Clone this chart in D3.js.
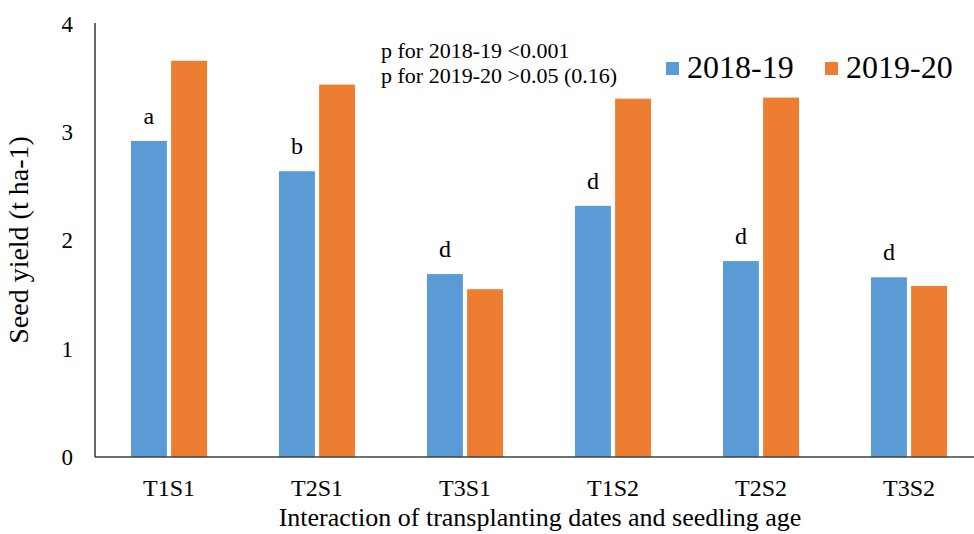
<!DOCTYPE html>
<html>
<head>
<meta charset="utf-8">
<script src="https://cdn.jsdelivr.net/npm/d3@7"></script>
<style>
  html, body { margin: 0; padding: 0; background: #fff; }
  svg { display: block; }
</style>
</head>
<body>
<svg id="chart" width="974" height="534"></svg>
<script>
// Seed yield by transplanting date x seedling age, two seasons
const categories = ["T1S1", "T2S1", "T3S1", "T1S2", "T2S2", "T3S2"];
const seriesNames = ["2018-19", "2019-20"];
const yield2018 = [2.92, 2.64, 1.69, 2.32, 1.81, 1.66];
const yield2019 = [3.66, 3.44, 1.55, 3.31, 3.32, 1.58];
const letters2018 = ["a", "b", "d", "d", "d", "d"];
const yTicks = [0, 1, 2, 3, 4];
const pNotes = ["p for 2018-19 <0.001", "p for 2019-20 >0.05 (0.16)"];

const colors = ["#5B9BD5", "#ED7D31"];
const FONT = "'Liberation Serif', 'Times New Roman', serif";
const svg = d3.select("#chart");

const plotLeft = 95, plotBottom = 457, plotTop = 24;
const band = 148;

const x = d3.scaleBand()
  .domain(categories)
  .range([plotLeft, plotLeft + band * categories.length])
  .paddingInner(0.486)
  .paddingOuter(0.243);

const xSub = d3.scaleBand()
  .domain(seriesNames)
  .range([0, x.bandwidth()])
  .paddingInner(0.105);

const y = d3.scaleLinear().domain([0, 4]).range([plotBottom, plotTop]);

const rows = categories.map((c, i) => ({
  cat: c, letter: letters2018[i],
  vals: [
    { key: seriesNames[0], v: yield2018[i], color: colors[0] },
    { key: seriesNames[1], v: yield2019[i], color: colors[1] }
  ]
}));

// bars
const g = svg.append("g");
const grp = g.selectAll("g.grp").data(rows).join("g")
  .attr("class", "grp")
  .attr("transform", d => `translate(${x(d.cat)},0)`);

grp.selectAll("rect").data(d => d.vals).join("rect")
  .attr("x", d => xSub(d.key))
  .attr("width", xSub.bandwidth())
  .attr("y", d => y(d.v))
  .attr("height", d => y(0) - y(d.v))
  .attr("fill", d => d.color);

// significance letters above the 2018-19 bars
grp.append("text")
  .attr("x", xSub(seriesNames[0]) + xSub.bandwidth() / 2)
  .attr("y", d => y(d.vals[0].v) - 17)
  .attr("text-anchor", "middle")
  .attr("font-family", FONT)
  .attr("font-size", 24)
  .attr("fill", "#000")
  .text(d => d.letter);

// y axis
const yAxis = d3.axisLeft(y).tickValues(yTicks).tickSize(0).tickPadding(22).tickFormat(d3.format("d"));
const ya = svg.append("g").attr("transform", `translate(${plotLeft},0)`).call(yAxis);
ya.select(".domain").attr("stroke", "#404040").attr("stroke-width", 1.6).attr("d", `M0,${plotTop - 1}V${plotBottom}`);
ya.selectAll("text").attr("font-size", 23).attr("fill", "#000").attr("font-family", FONT);

// x axis
const xAxis = d3.axisBottom(x).tickSize(0).tickPadding(22);
const xa = svg.append("g").attr("transform", `translate(0,${plotBottom})`).call(xAxis);
xa.select(".domain").attr("stroke", "#404040").attr("stroke-width", 1.6).attr("d", `M${plotLeft},0H974`);
xa.selectAll("text").attr("font-size", 24).attr("fill", "#000").attr("font-family", FONT);

// axis titles
svg.append("text")
  .attr("transform", `translate(28,240) rotate(-90)`)
  .attr("text-anchor", "middle")
  .attr("font-family", FONT)
  .attr("font-size", 28)
  .attr("fill", "#000")
  .text("Seed yield (t ha-1)");

svg.append("text")
  .attr("x", 540).attr("y", 526)
  .attr("text-anchor", "middle")
  .attr("font-family", FONT)
  .attr("font-size", 26)
  .attr("fill", "#000")
  .text("Interaction of transplanting dates and seedling age");

// p-value notes
svg.append("g").selectAll("text").data(pNotes).join("text")
  .attr("x", 381)
  .attr("y", (d, i) => 58 + i * 25)
  .attr("font-family", FONT)
  .attr("font-size", 22)
  .attr("fill", "#000")
  .text(d => d);

// legend
const legendX = [666, 825];
const lg = svg.append("g").selectAll("g").data(seriesNames).join("g")
  .attr("transform", (d, i) => `translate(${legendX[i]},0)`);
lg.append("rect").attr("x", 0).attr("y", 62).attr("width", 13).attr("height", 13)
  .attr("fill", (d, i) => colors[i]);
lg.append("text").attr("x", 21).attr("y", 78)
  .attr("font-family", FONT)
  .attr("font-size", 32).attr("fill", "#000")
  .text(d => d);
</script>
</body>
</html>
